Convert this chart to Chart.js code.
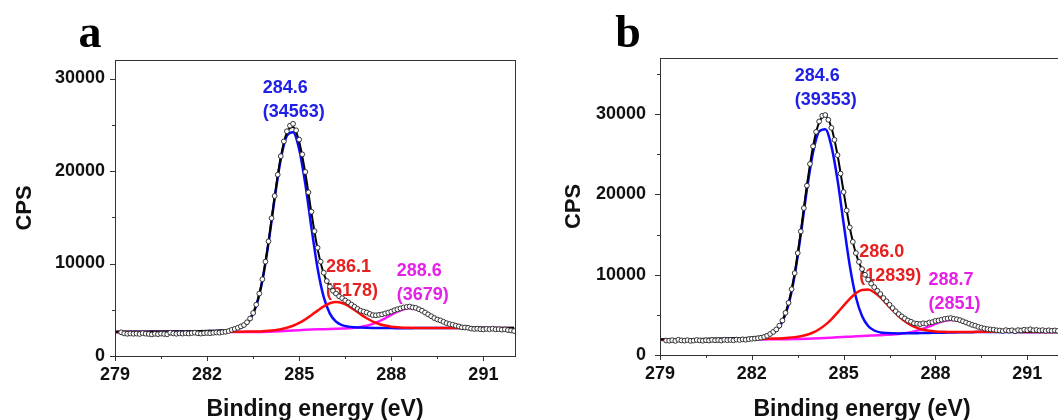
<!DOCTYPE html>
<html>
<head>
<meta charset="utf-8">
<script src="https://cdn.jsdelivr.net/npm/chart.js@4.4.0/dist/chart.umd.min.js"></script>
<style>
  html, body { margin: 0; padding: 0; background: #fff; overflow: hidden; width: 1058px; height: 420px; }
  .panel { position: absolute; top: 0; height: 420px; }
  #wrapA { left: 0; width: 529px; }
  #wrapB { left: 529px; width: 545px; }
</style>
</head>
<body>
<div class="panel" id="wrapA"><canvas id="chartA"></canvas></div>
<div class="panel" id="wrapB"><canvas id="chartB"></canvas></div>
<script>
// energies (eV) of the fitted curves, shared by both panels
const fitEnergy = [279.0, 279.5, 280.0, 280.5, 281.0, 281.5, 282.0, 282.4, 282.8,
  283.0, 283.2, 283.4, 283.6, 283.8, 284.0, 284.2, 284.4, 284.6, 284.8,
  285.0, 285.2, 285.4, 285.6, 285.8, 286.0, 286.2, 286.4, 286.6, 286.8,
  287.0, 287.2, 287.4, 287.6, 287.8, 288.0, 288.2, 288.4, 288.6, 288.8,
  289.0, 289.2, 289.4, 289.6, 289.8, 290.0, 290.5, 291.0, 291.5, 292.0];

// energies (eV) of the measured points
const pointEnergy = [
  279.2, 279.3, 279.4, 279.5, 279.6, 279.7, 279.8, 279.9, 280.0, 280.1,
  280.2, 280.3, 280.4, 280.5, 280.6, 280.7, 280.8, 280.9, 281.0, 281.1,
  281.2, 281.3, 281.4, 281.5, 281.6, 281.7, 281.8, 281.9, 282.0, 282.1,
  282.2, 282.3, 282.4, 282.5, 282.6, 282.7, 282.8, 282.9, 283.0, 283.1,
  283.2, 283.3, 283.4, 283.5, 283.6, 283.7, 283.8, 283.9, 284.0, 284.1,
  284.2, 284.3, 284.4, 284.5, 284.6, 284.7, 284.8, 284.9, 285.0, 285.1,
  285.2, 285.3, 285.4, 285.5, 285.6, 285.7, 285.8, 285.9, 286.0, 286.1,
  286.2, 286.3, 286.4, 286.5, 286.6, 286.7, 286.8, 286.9, 287.0, 287.1,
  287.2, 287.3, 287.4, 287.5, 287.6, 287.7, 287.8, 287.9, 288.0, 288.1,
  288.2, 288.3, 288.4, 288.5, 288.6, 288.7, 288.8, 288.9, 289.0, 289.1,
  289.2, 289.3, 289.4, 289.5, 289.6, 289.7, 289.8, 289.9, 290.0, 290.1,
  290.2, 290.3, 290.4, 290.5, 290.6, 290.7, 290.8, 290.9, 291.0, 291.1,
  291.2, 291.3, 291.4, 291.5, 291.6, 291.7, 291.8, 291.9, 292.0];

// ---- panel a (CPS) ----
const pointsA = [
  2560, 2440, 2400, 2430, 2400, 2420, 2380, 2470, 2410, 2380,
  2330, 2400, 2360, 2420, 2380, 2350, 2520, 2440, 2400, 2450,
  2420, 2470, 2430, 2480, 2520, 2450, 2420, 2470, 2490, 2460,
  2510, 2540, 2520, 2580, 2620, 2700, 2830, 2930, 3050, 3200,
  3350, 3650, 4050, 4650, 5550, 6750, 8300, 10200, 12400, 14900,
  17300, 19600, 21600, 23200, 24300, 24900, 25100, 24400, 23400, 21800,
  19900, 17700, 15600, 13500, 11700, 10200, 9000, 8100, 7500, 7050,
  6750, 6450, 6250, 6000, 5800, 5550, 5330, 5100, 4900, 4800,
  4700, 4550, 4420, 4400, 4450, 4500, 4600, 4700, 4800, 4950,
  5050, 5150, 5250, 5300, 5350, 5250, 5200, 5050, 4900, 4700,
  4500, 4300, 4100, 3950, 3850, 3700, 3550, 3450, 3380, 3280,
  3200, 3100, 3080, 3050, 2960, 2920, 2950, 2900, 2870, 2930,
  2890, 2950, 2880, 2900, 2850, 2880, 2800, 2760, 2700];
const envelopeA = [2619, 2625, 2635, 2645, 2662, 2687, 2722, 2766, 2867,
  2999, 3304, 4018, 5500, 8228, 12347, 17201, 21510, 24186, 24753,
  23160, 19763, 15467, 11555, 8895, 7448, 6708, 6225, 5769, 5306,
  4880, 4558, 4383, 4374, 4514, 4753, 5022, 5232, 5303, 5192,
  4927, 4576, 4209, 3874, 3604, 3405, 3157, 3083, 3060, 3044];
const blueA = [2606, 2610, 2617, 2625, 2638, 2658, 2686, 2723, 2815,
  2941, 3239, 3945, 5417, 8125, 12216, 17026, 21262, 23818, 24200,
  22340, 18586, 13855, 9468, 6360, 4580, 3709, 3331, 3176, 3110,
  3074, 3055, 3040, 3030, 3023, 3016, 3012, 3010, 3012, 3015,
  3015, 3016, 3019, 3020, 3020, 3020, 3016, 3012, 3009, 3005];
const redA = [2590, 2592, 2594, 2596, 2599, 2603, 2609, 2615, 2623,
  2629, 2635, 2642, 2657, 2686, 2727, 2790, 2892, 3050, 3273,
  3573, 3958, 4415, 4906, 5365, 5708, 5845, 5733, 5415, 4976,
  4510, 4081, 3728, 3466, 3287, 3172, 3105, 3067, 3049, 3037,
  3032, 3030, 3029, 3028, 3027, 3025, 3018, 3012, 3008, 3005];
const magentaA = [2583, 2583, 2584, 2584, 2585, 2586, 2587, 2588, 2589,
  2589, 2590, 2591, 2596, 2607, 2624, 2645, 2676, 2718, 2760,
  2797, 2829, 2857, 2881, 2900, 2920, 2944, 2971, 3008, 3060,
  3146, 3278, 3475, 3744, 4078, 4445, 4795, 5055, 5158, 5070,
  4820, 4480, 4121, 3796, 3533, 3340, 3103, 3039, 3023, 3014];
const peakTextA = [['284.6', '(34563)'], ['286.1', '(5178)'], ['288.6', '(3679)']];

// ---- panel b (CPS) ----
const pointsB = [
  1800, 1780, 1850, 1760, 1900, 1820, 1790, 1850, 1760, 1800,
  1870, 1820, 1780, 1840, 1800, 1880, 1830, 1860, 1800, 1900,
  1850, 1880, 1830, 1920, 1870, 1950, 1900, 1980, 2020, 2050,
  2100, 2150, 2250, 2400, 2620, 2880, 3180, 3650, 4300, 5250,
  6500, 8200, 10200, 12700, 15400, 18300, 21100, 23800, 26000, 27800,
  29100, 29800, 29900, 29300, 28300, 26800, 24900, 22600, 20300, 18000,
  15900, 14100, 12700, 11600, 10700, 10000, 9400, 8900, 8450, 8000,
  7600, 7100, 6700, 6250, 5850, 5450, 5100, 4800, 4550, 4300,
  4150, 3950, 3900, 3850, 3950, 3900, 4050, 4100, 4250, 4300,
  4400, 4500, 4550, 4600, 4500, 4450, 4350, 4200, 4050, 3900,
  3750, 3650, 3500, 3400, 3300, 3230, 3180, 3150, 3080, 3050,
  2980, 3100, 3020, 3080, 2950, 3100, 3050, 3150, 3100, 3200,
  3080, 3120, 3050, 3100, 3000, 3080, 3020, 3060, 3000];
const envelopeB = [1941, 1963, 1991, 2015, 2051, 2107, 2188, 2373, 3158,
  4289, 6482, 10182, 15382, 21131, 25993, 28981, 29773, 28336, 24917,
  20320, 15893, 12640, 10642, 9415, 8476, 7583, 6696, 5843, 5091,
  4502, 4104, 3898, 3877, 3997, 4202, 4407, 4533, 4524, 4366,
  4111, 3826, 3557, 3339, 3184, 3080, 2967, 2932, 2921, 2908];
const blueB = [1917, 1935, 1958, 1976, 2004, 2048, 2113, 2281, 3035,
  4142, 6296, 9934, 15032, 20617, 25224, 27840, 28119, 26023, 21824,
  16381, 11139, 7225, 4850, 3620, 3052, 2812, 2727, 2699, 2692,
  2701, 2713, 2722, 2737, 2751, 2769, 2781, 2793, 2808, 2822,
  2832, 2845, 2852, 2859, 2866, 2869, 2869, 2869, 2871, 2868];
const redB = [1902, 1916, 1931, 1941, 1954, 1975, 2001, 2027, 2067,
  2101, 2150, 2226, 2343, 2526, 2805, 3206, 3753, 4451, 5270,
  6154, 7007, 7701, 8111, 8146, 7806, 7177, 6394, 5580, 4831,
  4203, 3721, 3375, 3146, 3008, 2931, 2890, 2871, 2867, 2868,
  2872, 2878, 2881, 2884, 2888, 2888, 2883, 2880, 2880, 2875];
const magentaB = [1882, 1892, 1902, 1908, 1913, 1924, 1934, 1945, 1956,
  1966, 1976, 1992, 2007, 2028, 2054, 2085, 2121, 2162, 2203,
  2245, 2287, 2324, 2361, 2399, 2438, 2474, 2515, 2564, 2628,
  2718, 2850, 3031, 3274, 3568, 3882, 4156, 4329, 4349, 4216,
  3977, 3703, 3444, 3236, 3090, 2993, 2895, 2873, 2870, 2865];
const peakTextB = [['284.6', '(39353)'], ['286.0', '(12839)'], ['288.7', '(2851)']];

// ticks
const xTicks = [279, 280.5, 282, 283.5, 285, 286.5, 288, 289.5, 291];
const xTickLabels = [279, 282, 285, 288, 291];
const yTicksA = [0, 5000, 10000, 15000, 20000, 25000, 30000];
const yTicksB = [0, 5000, 10000, 15000, 20000, 25000, 30000, 35000];
const yTickLabels = [0, 10000, 20000, 30000];

const FONT = 'Arial, "Liberation Sans", sans-serif';
const BLUE = '#0a0aff', RED = '#ff0a0a', MAGENTA = '#ff14ff';
const TEXT_COLORS = ['#2020e6', '#e62020', '#e620e6'];

Chart.defaults.font.family = FONT;
Chart.defaults.animation = false;

// label anchors, in data units (left edge of first line)
const labelPosA = [[283.81, 29000], [285.87, 9630], [288.18, 9200]];
const labelPosB = [[283.40, 34700], [285.51, 12860], [287.77, 9340]];

const decorPlugin = {
  id: 'decor',
  beforeDatasetsDraw(chart, args, o) {
    const { ctx, scales: { x, y } } = chart;
    ctx.save();
    ctx.font = 'bold 18px ' + FONT;
    ctx.textAlign = 'left';
    ctx.textBaseline = 'middle';
    o.texts.forEach((lines, i) => {
      const px = x.getPixelForValue(o.pos[i][0]);
      const py = y.getPixelForValue(o.pos[i][1]);
      ctx.fillStyle = TEXT_COLORS[i];
      lines.forEach((t, k) => ctx.fillText(t, px, py + k * 24));
    });
    ctx.restore();
  },
  afterDraw(chart, args, o) {
    const { ctx, chartArea: a, scales: { x, y } } = chart;
    ctx.save();
    ctx.strokeStyle = '#333';
    ctx.lineWidth = 1;
    ctx.strokeRect(a.left + 0.5, a.top + 0.5, a.right - a.left, a.bottom - a.top);
    // outward ticks, longer for labelled ones
    ctx.beginPath();
    x.ticks.forEach(t => {
      const px = Math.round(x.getPixelForValue(t.value)) + 0.5;
      const len = xTickLabels.includes(t.value) ? 5 : 3;
      ctx.moveTo(px, a.bottom); ctx.lineTo(px, a.bottom + len);
    });
    y.ticks.forEach(t => {
      const py = Math.round(y.getPixelForValue(t.value)) + 0.5;
      const len = yTickLabels.includes(t.value) ? 5 : 3;
      ctx.moveTo(a.left, py); ctx.lineTo(a.left - len, py);
    });
    ctx.stroke();
    // panel letter
    ctx.font = 'bold 46px "Times New Roman", "Liberation Serif", serif';
    ctx.fillStyle = '#000';
    ctx.textAlign = 'center';
    ctx.textBaseline = 'alphabetic';
    ctx.fillText(o.letter, o.letterX, 47);
    ctx.restore();
  }
};

function curve(values, color, width, order) {
  return {
    data: fitEnergy.map((e, i) => ({ x: e, y: values[i] })),
    showLine: true, borderColor: color, borderWidth: width,
    pointRadius: 0, fill: false, cubicInterpolationMode: 'monotone', order
  };
}

function makePanel(cfg) {
  const datasets = [
    {
      data: pointEnergy.map((e, i) => ({ x: e, y: cfg.points[i] })),
      showLine: false, pointRadius: 2.4, pointBorderWidth: 1,
      pointBorderColor: '#333', pointBackgroundColor: '#fff', order: 0
    },
    curve(cfg.envelope, '#000', 2, 1),
    curve(cfg.red, RED, 2.5, 2),
    curve(cfg.blue, BLUE, 2.5, 3),
    curve(cfg.magenta, MAGENTA, 2.5, 4)
  ];
  new Chart(document.getElementById(cfg.id), {
    type: 'scatter',
    data: { datasets },
    options: {
      responsive: true,
      maintainAspectRatio: false,
      layout: { padding: cfg.padding },
      plugins: {
        legend: { display: false },
        tooltip: { enabled: false },
        decor: { texts: cfg.texts, pos: cfg.pos, letter: cfg.letter, letterX: cfg.letterX }
      },
      scales: {
        x: {
          type: 'linear', min: 279, max: cfg.xMax,
          afterBuildTicks: s => { s.ticks = xTicks.map(v => ({ value: v })); },
          afterFit: s => { s.height = cfg.xHeight; },
          ticks: {
            autoSkip: false, maxRotation: 0, padding: 3, color: '#111',
            font: { size: 18, weight: 'bold' },
            callback: v => xTickLabels.includes(v) ? String(v) : ''
          },
          grid: { display: true, drawOnChartArea: false, tickLength: 5, color: 'rgba(0,0,0,0)' },
          border: { display: false },
          title: {
            display: true, text: 'Binding energy (eV)', color: '#111',
            font: { size: 23, weight: 'bold', lineHeight: 0.8 },
            padding: { top: 0, bottom: 1 }
          }
        },
        y: {
          type: 'linear', min: 0, max: cfg.yMax,
          afterBuildTicks: s => { s.ticks = cfg.yTicks.map(v => ({ value: v })); },
          afterFit: s => { s.width = cfg.yWidth; },
          ticks: {
            autoSkip: false, padding: cfg.yPad, color: '#111',
            font: { size: 18, weight: 'bold' },
            callback: v => yTickLabels.includes(v) ? String(v) : ''
          },
          grid: { display: true, drawOnChartArea: false, tickLength: 5, color: 'rgba(0,0,0,0)' },
          border: { display: false },
          title: {
            display: true, text: 'CPS', color: '#111',
            font: { size: 22, weight: 'bold' },
            padding: { top: cfg.titlePad, bottom: 0 }
          }
        }
      }
    },
    plugins: [decorPlugin]
  });
}

makePanel({
  id: 'chartA', letter: 'a', letterX: 90,
  points: pointsA, envelope: envelopeA, blue: blueA, red: redA, magenta: magentaA,
  texts: peakTextA, pos: labelPosA,
  xMax: 292.03, yMax: 32000, yTicks: yTicksA,
  padding: { left: 0, top: 60, right: 14, bottom: 0 },
  yWidth: 115, xHeight: 64, yPad: 5, titlePad: 12
});

makePanel({
  id: 'chartB', letter: 'b', letterX: 99,
  points: pointsB, envelope: envelopeB, blue: blueB, red: redB, magenta: magentaB,
  texts: peakTextB, pos: labelPosB,
  xMax: 292.2, yMax: 37000, yTicks: yTicksB,
  padding: { left: 0, top: 58, right: 10, bottom: 0 },
  yWidth: 131, xHeight: 65, yPad: 9, titlePad: 32
});
</script>
</body>
</html>
